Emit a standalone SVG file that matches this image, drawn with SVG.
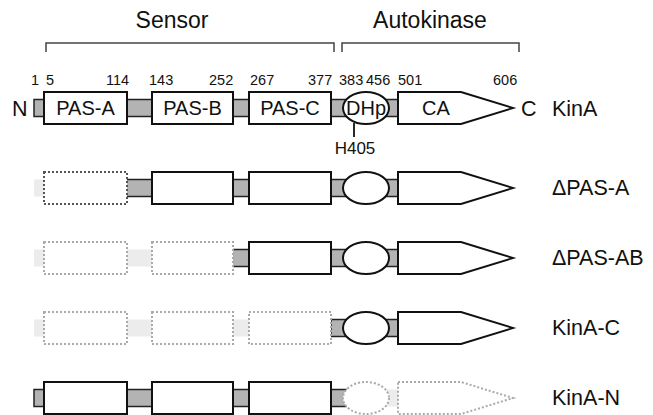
<svg xmlns="http://www.w3.org/2000/svg" width="653" height="415" viewBox="0 0 653 415">
<style>
text{font-family:"Liberation Sans",Arial,sans-serif;fill:#111}
.hdr{font-size:23px;text-anchor:middle}
.num{font-size:14.5px}
.dl{font-size:20px;text-anchor:middle}
.lab{font-size:21.5px}
.solid{fill:#fff;stroke:#111;stroke-width:2}
.ghost{fill:#fff;stroke:#aaa;stroke-width:2;stroke-dasharray:2 2}
.ghostd{fill:#fff;stroke:#555;stroke-width:2;stroke-dasharray:2 2}
.link{fill:#b3b3b3;stroke:#222;stroke-width:1.5}
.lite{fill:#ececec;stroke:none}
.brk{fill:none;stroke:#444;stroke-width:1.5}
</style>
<defs>
<g id="boxA"><rect x="44" y="-16" width="83" height="32"/></g>
</defs>

<g id="sensor-bracket">
<text class="hdr" x="172" y="28">Sensor</text>
<path class="brk" d="M46,52 V43 H334 V52"/>
</g>
<g id="autokinase-bracket">
<text class="hdr" x="430" y="28">Autokinase</text>
<path class="brk" d="M342,52 V43 H519 V52"/>
</g>

<g id="numbers">
<text class="num" x="31" y="85">1</text>
<text class="num" x="46" y="85">5</text>
<text class="num" x="106" y="85">114</text>
<text class="num" x="149" y="85">143</text>
<text class="num" x="209" y="85">252</text>
<text class="num" x="250" y="85">267</text>
<text class="num" x="308" y="85">377</text>
<text class="num" x="339" y="85">383</text>
<text class="num" x="366" y="85">456</text>
<text class="num" x="398" y="85">501</text>
<text class="num" x="493" y="85">606</text>
</g>

<!-- KinA -->
<g id="kinA">
<rect class="link" x="34" y="99.5" width="12" height="17"/>
<rect class="link" x="126" y="99.5" width="27" height="17"/>
<rect class="link" x="232" y="99.5" width="18" height="17"/>
<rect class="link" x="330" y="99.5" width="69" height="17"/>
<rect class="solid" x="44" y="92" width="83" height="32"/>
<rect class="solid" x="152" y="92" width="81" height="32"/>
<rect class="solid" x="249" y="92" width="82" height="32"/>
<ellipse class="solid" cx="366" cy="108" rx="23" ry="16"/>
<polygon class="solid" points="398,92 461,92 513,108 461,124 398,124"/>
<text class="dl" x="85.5" y="115">PAS-A</text>
<text class="dl" x="192.5" y="115">PAS-B</text>
<text class="dl" x="290" y="115">PAS-C</text>
<text class="dl" x="366" y="115" textLength="40" lengthAdjust="spacingAndGlyphs">DHp</text>
<text class="dl" x="436" y="115">CA</text>
<text class="lab" x="12" y="116">N</text>
<text class="lab" x="521" y="116">C</text>
<text class="lab" x="552" y="116">KinA</text>
</g>

<g id="connectors">
<line x1="354" y1="123" x2="354" y2="137" stroke="#111" stroke-width="1.8"/>
</g>
<g id="h405">
<text x="355" y="154" style="font-size:17px;text-anchor:middle">H405</text>
</g>

<!-- ΔPAS-A -->
<g id="dPAS-A">
<rect class="lite" x="34" y="179.5" width="10" height="17"/>
<rect class="link" x="126" y="179.5" width="27" height="17"/>
<rect class="link" x="232" y="179.5" width="18" height="17"/>
<rect class="link" x="330" y="179.5" width="69" height="17"/>
<rect class="ghostd" x="44" y="172" width="83" height="32"/>
<rect class="solid" x="152" y="172" width="81" height="32"/>
<rect class="solid" x="249" y="172" width="82" height="32"/>
<ellipse class="solid" cx="366" cy="188" rx="23" ry="16"/>
<polygon class="solid" points="398,172 461,172 513,188 461,204 398,204"/>
<text class="lab" x="552" y="195">ΔPAS-A</text>
</g>

<!-- ΔPAS-AB -->
<g id="dPAS-AB">
<rect class="lite" x="34" y="249.5" width="10" height="17"/>
<rect class="lite" x="127" y="249.5" width="25" height="17"/>
<rect class="link" x="232" y="249.5" width="18" height="17"/>
<rect class="link" x="330" y="249.5" width="69" height="17"/>
<rect class="ghost" x="44" y="242" width="83" height="32"/>
<rect class="ghost" x="152" y="242" width="81" height="32"/>
<rect class="solid" x="249" y="242" width="82" height="32"/>
<ellipse class="solid" cx="366" cy="258" rx="23" ry="16"/>
<polygon class="solid" points="398,242 461,242 513,258 461,274 398,274"/>
<text class="lab" x="552" y="265">ΔPAS-AB</text>
</g>

<!-- KinA-C -->
<g id="kinA-C">
<rect class="lite" x="34" y="319.5" width="10" height="17"/>
<rect class="lite" x="127" y="319.5" width="25" height="17"/>
<rect class="lite" x="233" y="319.5" width="16" height="17"/>
<rect class="link" x="331" y="319.5" width="68" height="17"/>
<rect class="ghost" x="44" y="312" width="83" height="32"/>
<rect class="ghost" x="152" y="312" width="81" height="32"/>
<rect class="ghost" x="249" y="312" width="82" height="32"/>
<ellipse class="solid" cx="366" cy="328" rx="23" ry="16"/>
<polygon class="solid" points="398,312 461,312 513,328 461,344 398,344"/>
<text class="lab" x="552" y="335">KinA-C</text>
</g>

<!-- KinA-N -->
<g id="kinA-N">
<rect class="link" x="34" y="389.5" width="12" height="17"/>
<rect class="link" x="126" y="389.5" width="27" height="17"/>
<rect class="link" x="232" y="389.5" width="18" height="17"/>
<rect class="link" x="330" y="389.5" width="16" height="17"/>
<rect class="lite" x="386" y="389.5" width="12" height="17"/>
<rect class="solid" x="44" y="382" width="83" height="32"/>
<rect class="solid" x="152" y="382" width="81" height="32"/>
<rect class="solid" x="249" y="382" width="82" height="32"/>
<ellipse class="ghost" cx="366" cy="398" rx="23" ry="16"/>
<polygon class="ghost" points="398,382 461,382 513,398 461,414 398,414"/>
<text class="lab" x="552" y="405">KinA-N</text>
</g>
</svg>
